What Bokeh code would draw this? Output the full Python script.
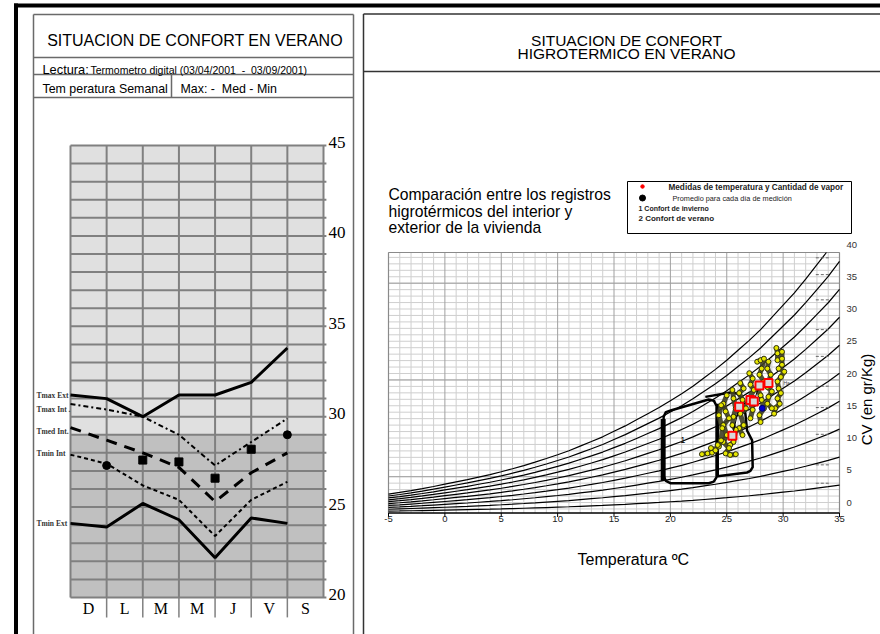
import math
from bokeh.plotting import figure
from bokeh.models import Range1d
from bokeh.embed import file_html
from bokeh.resources import INLINE
from bokeh.core.properties import value

# ================= DATA =================
# --- left chart: weekly temperatures (deg C) ---
days = ["D", "L", "M", "M", "J", "V", "S"]
temp_ticks = [20, 25, 30, 35, 40, 45]
series_names = ["Tmax Ext", "Tmax Int .", "Tmed Int.", "Tmin Int", "Tmin Ext"]
tmax_ext = [31.2, 31.0, 30.0, 31.2, 31.2, 31.9, 33.8]
tmax_int = [30.7, 30.4, 30.0, 29.0, 27.3, 28.6, 29.9]
tmed_int = [29.4, 28.7, 28.0, 27.2, 25.3, 26.9, 28.0]
tmin_int = [27.9, 27.4, 26.2, 25.4, 23.4, 25.4, 26.4]
tmin_ext = [24.1, 23.9, 25.2, 24.3, 22.2, 24.4, 24.1]
tmed_mark_day = [1, 2, 3, 4, 5, 6]
tmed_mark = [27.3, 27.6, 27.5, 26.6, 28.2, 29.0]
tmed_mark_shape = ["circle", "square", "square", "square", "square", "circle"]
shade_split = 29

# --- right chart: psychrometric chart ---
x_ticks = [-5, 0, 5, 10, 15, 20, 25, 30, 35]
y_ticks = [0, 5, 10, 15, 20, 25, 30, 35, 40]
sat_T = list(range(-5, 36))
sat_w = [2.47, 2.69, 2.93, 3.19, 3.47, 3.77, 4.07, 4.37, 4.70, 5.03, 5.40,
         5.79, 6.21, 6.65, 7.13, 7.63, 8.15, 8.75, 9.35, 9.97, 10.69, 11.4,
         12.2, 13.0, 13.8, 14.7, 15.6, 16.6, 17.7, 18.8, 20.0, 21.3, 22.6,
         24.0, 25.6, 27.2, 28.8, 30.6, 32.5, 34.4, 36.6]
rh_levels = [10, 20, 30, 40, 50, 60, 70, 80, 90, 100]
rh_marks_cv = [33.4, 31.2, 27.9, 24.0, 20.5, 16.6, 13.8, 10.3, 6.3, 3.9]

pts_day = [1]*16 + [2]*8 + [3]*12 + [4]*7 + [5]*9 + [6]*8 + [7]*11 + [8]*5 + [9]*6
pts_T = [29.4, 29.5, 29.5, 29.9, 29.9, 29.9, 29.6, 30.1, 29.8, 29.5, 29.6, 29.8, 29.5, 29.7, 29.3, 29.2,
         28.7, 28.6, 28.9, 28.6, 29.0, 28.7, 28.6, 29.0,
         27.7, 28.0, 28.3, 28.1, 27.9, 28.3, 27.7, 28.0, 28.1, 28.3, 27.9, 28.0,
         27.0, 27.3, 27.1, 27.4, 27.0, 27.3, 27.1,
         26.2, 26.5, 26.1, 26.4, 26.7, 26.2, 26.5, 26.1, 26.4,
         25.5, 25.6, 25.8, 25.6, 25.5, 25.8, 25.6, 25.3,
         25.0, 24.7, 24.9, 25.2, 24.7, 25.0, 24.7, 25.2, 24.9, 25.3, 25.8,
         24.5, 24.3, 24.6, 24.5, 24.3,
         22.8, 23.3, 23.7, 23.6, 24.0, 24.2]
pts_cv = [21.6, 20.9, 20.0, 21.1, 20.2, 19.4, 18.9, 18.5, 17.8, 17.2, 16.3, 15.7, 15.0, 14.3, 13.7, 13.0,
          19.8, 18.9, 18.1, 16.5, 15.9, 15.2, 14.3, 13.7,
          19.8, 20.0, 20.2, 18.9, 18.1, 17.2, 16.3, 15.4, 14.8, 13.7, 12.8, 11.9,
          18.3, 17.6, 16.8, 16.1, 15.0, 13.5, 12.4,
          17.0, 16.3, 15.7, 14.8, 13.7, 13.0, 11.5, 11.1, 10.2,
          16.1, 15.0, 13.7, 12.6, 11.5, 10.9, 9.3, 8.9,
          15.4, 14.3, 13.3, 12.4, 11.5, 10.2, 9.3, 8.5, 7.8, 7.6, 7.7,
          14.1, 12.8, 11.1, 9.5, 8.7,
          7.7, 7.8, 7.9, 8.5, 8.2, 8.9]
avg_T = [25.5, 26.1, 27.1, 27.4, 27.9, 28.7]
avg_cv = [10.1, 13.9, 14.8, 14.6, 16.7, 17.0]
mean_T = [28.15]
mean_cv = [13.7]

zone1_T = [19.4, 19.4, 19.6, 20.1, 23.4, 23.85, 24.1, 24.1, 23.85, 23.4, 20.0, 19.6, 19.4]
zone1_cv = [4.8, 12.6, 13.2, 13.45, 14.85, 14.7, 14.0, 4.7, 4.1, 3.9, 3.9, 4.2, 4.8]
zone1_bar_T = [19.36, 19.36]
zone1_bar_cv = [4.2, 12.3]
zone2_T = [23.1, 25.45, 25.95, 26.25, 26.65, 26.8, 27.25, 27.3, 27.1, 26.8, 24.2, 24.2]
zone2_cv = [15.2, 15.8, 15.6, 15.1, 13.0, 10.8, 9.5, 6.0, 5.5, 5.3, 4.8, 14.3]

legend_items = ["Medidas de temperatura y Cantidad de vapor",
                "Promedio para cada día de medición",
                "1 Confort de invierno",
                "2 Confort de verano"]

# ================= FIGURE =================
SANS = "Liberation Sans"
SERIF = "Liberation Serif"
NB = "\u00a0"
X0, X1, Y0, Y1 = 0, 880, 0, 634   # page-pixel frame

p = figure(width=880, height=634, x_range=Range1d(X0, X1), y_range=Range1d(Y1, Y0),
           x_axis_type=None, y_axis_type=None, output_backend="svg",
           toolbar_location=None, min_border=0, outline_line_color=None,
           background_fill_color="white", border_fill_color="white")


def lin_range(va, pa, vb, pb, lo, hi):
    k = (vb - va) / (pb - pa)
    return Range1d(start=va + (lo - pa) * k, end=va + (hi - pa) * k)


CV_PX0, CV_K = 512.5, 7.64
p.extra_x_ranges = {"lday": lin_range(0, 70, 7, 323, X0, X1),
                    "rT": lin_range(-5, 388, 35, 839, X0, X1)}
p.extra_y_ranges = {"ltemp": lin_range(20, 597, 45, 145, Y1, Y0),
                    "rcv": lin_range(0, CV_PX0, 10, CV_PX0 - 10 * CV_K, Y1, Y0),
                    "rlab": lin_range(0, 502, 40, 244, Y1, Y0)}


def txt(x, y, s, size, font=SANS, align="left", baseline="alphabetic", color="black",
        style="normal", angle=0.0, xr="default", yr="default", xoff=0, yoff=0):
    p.text(x=[x], y=[y], text=[s], text_font=value(font), text_font_size=value(f"{size}px"),
           text_align=align, text_baseline=baseline, text_color=color,
           text_font_style=style, angle=angle, x_range_name=xr, y_range_name=yr,
           x_offset=xoff, y_offset=yoff)


def segs(x0, y0, x1, y1, color="black", width=1.0, xr="default", yr="default", dash="solid"):
    p.segment(x0=x0, y0=y0, x1=x1, y1=y1, line_color=color, line_width=width,
              x_range_name=xr, y_range_name=yr, line_dash=dash)


# ---------- page frame ----------
segs([15.5], [3], [15.5], [634], "black", 4)
segs([13.5], [5], [880], [5], "black", 4)
# left panel box
segs([33, 353, 33, 33, 33, 33], [14, 14, 14, 57, 74, 97],
     [33, 353, 353, 353, 353, 353], [634, 634, 14, 57, 74, 97], "#6a6a6a", 1.5)
segs([171], [74], [171], [97], "#6a6a6a", 1.5)
# right panel box
segs([363, 363, 363], [13.5, 13.5, 71], [363, 880, 880], [634, 13.5, 71], "#333333", 1.5)

# ---------- left header texts ----------
txt(194.5, 39.5, "SITUACION DE CONFORT EN VERANO", 16)
p.renderers[-1].glyph.text_align = "center"
txt(42, 69, "Lectura:", 12.8)
txt(90, 69, "Termometro digital (03/04/2001" + NB * 2 + "-" + NB * 2 + "03/09/2001)", 10.5)
txt(42, 88, "Tem peratura Semanal", 12.4)
txt(180, 88, "Max: -" + NB * 2 + "Med - Min", 12.4)

# ---------- left chart ----------
p.quad(left=[0, 0], right=[7, 7], bottom=[shade_split, 20], top=[45, shade_split],
       fill_color=["#e0e0e0", "#c0c0c0"], line_color=None,
       x_range_name="lday", y_range_name="ltemp")
hl = list(range(20, 46))
segs([0] * len(hl), hl, [7.08] * len(hl), hl, "#808080", 2, "lday", "ltemp")
vl = list(range(0, 8))
segs(vl, [20] * len(vl), vl, [45] * len(vl), "#808080", 2, "lday", "ltemp")
sep = list(range(1, 7))
segs(sep, [20] * len(sep), sep, [18.9] * len(sep), "#808080", 1.5, "lday", "ltemp")

idx = list(range(7))
p.line(idx, tmin_ext, line_color="black", line_width=3, x_range_name="lday", y_range_name="ltemp")
p.line(idx, tmax_ext, line_color="black", line_width=3, x_range_name="lday", y_range_name="ltemp")
p.line(idx, tmax_int, line_color="black", line_width=2, line_dash="5 3 2 3",
       x_range_name="lday", y_range_name="ltemp")
p.line(idx, tmin_int, line_color="black", line_width=2, line_dash="4 3",
       x_range_name="lday", y_range_name="ltemp")
p.line(idx, tmed_int, line_color="black", line_width=3, line_dash="11 8",
       x_range_name="lday", y_range_name="ltemp")
p.scatter(tmed_mark_day, tmed_mark, marker=tmed_mark_shape, size=8, fill_color="black",
          line_color="black", x_range_name="lday", y_range_name="ltemp")

label_y = [395, 409, 431, 453, 523]
for name, ly in zip(series_names, label_y):
    txt(36, ly, name, 7.5, font=SERIF, baseline="middle", color="#333333", style="bold")

for t in temp_ticks:
    txt(328, t, str(t), 17, font=SERIF, baseline="middle", xr="default", yr="ltemp", yoff=-3)
for i, d in enumerate(days):
    txt(i + 0.5, 608, d, 16, font=SERIF, align="center", baseline="middle", xr="lday")

# ---------- right header texts ----------
txt(626, 40, "SITUACION DE CONFORT", 15.5, align="center")
txt(626, 52.7, "HIGROTERMICO EN VERANO", 15.5, align="center")
txt(388, 194, "Comparación entre los registros", 15.7)
txt(388, 210.5, "higrotérmicos del interior y", 15.7)
txt(388, 227, "exterior de la vivienda", 15.7)

# legend
p.quad(left=[627], right=[851], top=[181], bottom=[233], fill_color=None, line_color="black",
       line_width=1)
p.scatter([642], [186], size=3.5, fill_color="red", line_color="red")
p.scatter([642], [197.5], size=6, fill_color="black", line_color="black")
txt(668, 186.5, legend_items[0], 8.2, baseline="middle", style="bold", color="#222222")
txt(672, 197.5, legend_items[1], 7.3, baseline="middle", color="#222222")
txt(638, 207.5, legend_items[2], 7, baseline="middle", style="bold", color="#222222")
txt(638, 218, legend_items[3], 8, baseline="middle", style="bold", color="#222222")

# ---------- right chart: grid ----------
top_cv = (CV_PX0 - 252) / CV_K
gT = list(range(-5, 36))
light_T = [t for t in gT if t % 5]
dark_T = [t for t in gT if t % 5 == 0]
segs(light_T, [0] * len(light_T), light_T, [top_cv] * len(light_T), "#cfcfcf", 1, "rT", "rcv")
gl = list(range(-1, 39))
segs([-5] * len(gl), gl, [35] * len(gl), gl, "#cfcfcf", 1, "rT", "rlab")
segs(dark_T, [0] * len(dark_T), dark_T, [top_cv] * len(dark_T), "#a0a0a0", 1, "rT", "rcv")
dl = [4, 19, 34]
segs([-5] * len(dl), dl, [35] * len(dl), dl, "#a0a0a0", 1, "rT", "rlab")
# frame
segs([388, 388, 839], [252, 252, 252], [388, 839, 839], [512.5, 252, 512.5], "#8a8a8a", 1.2)
segs([388], [512.5], [839], [512.5], "black", 1.5)
segs(x_ticks, [512.5] * len(x_ticks), x_ticks, [516.5] * len(x_ticks), "black", 1, "rT", "default")

# relative-humidity curves (clipped to frame top)
cxs, cys = [], []
for rh in rh_levels:
    cx, cy = [], []
    for i, (t, ws) in enumerate(zip(sat_T, sat_w)):
        w = ws * rh / 100.0
        if w <= top_cv:
            cx.append(t)
            cy.append(w)
        else:
            w0 = sat_w[i - 1] * rh / 100.0
            t0 = sat_T[i - 1]
            f = (top_cv - w0) / (w - w0)
            cx.append(t0 + f * (t - t0))
            cy.append(top_cv)
            break
    cxs.append(cx)
    cys.append(cy)
p.multi_line(cxs, cys, line_color="black", line_width=1.2, x_range_name="rT", y_range_name="rcv")
segs([32.9] * len(rh_marks_cv), rh_marks_cv, [34.2] * len(rh_marks_cv), rh_marks_cv,
     "#666666", 1, "rT", "rcv", dash="3 2")

# comfort zones
p.line(zone1_T, zone1_cv, line_color="black", line_width=2.5, x_range_name="rT", y_range_name="rcv")
p.line(zone1_bar_T, zone1_bar_cv, line_color="black", line_width=5, x_range_name="rT", y_range_name="rcv")
p.line(zone2_T, zone2_cv, line_color="black", line_width=2.5, x_range_name="rT", y_range_name="rcv")
txt(21.1, 9.5, "1", 9, align="center", baseline="middle", xr="rT", yr="rcv")

# measurement points: daily streaks + points
groups = sorted(set(pts_day))
sx, sy = [], []
for g in groups:
    sx.append([t for t, d in zip(pts_T, pts_day) if d == g])
    sy.append([c for c, d in zip(pts_cv, pts_day) if d == g])
p.multi_line(sx, sy, line_color="#3e3e22", line_width=5, line_alpha=0.9,
             x_range_name="rT", y_range_name="rcv")
p.scatter(pts_T, pts_cv, marker="circle", size=5, fill_color="#e6e600", line_color="#2e2e10",
          line_width=1, x_range_name="rT", y_range_name="rcv")
p.line(avg_T, avg_cv, line_color="black", line_width=1, x_range_name="rT", y_range_name="rcv")
p.scatter(avg_T, avg_cv, marker="square", size=8, fill_color="#d8d8d8", line_color="red",
          line_width=2, x_range_name="rT", y_range_name="rcv")
p.scatter(mean_T, mean_cv, marker="circle", size=6, fill_color="#0000cc", line_color="#000066",
          x_range_name="rT", y_range_name="rcv")
txt(783, 382, "Ha", 5, baseline="middle", color="#444444")

# tick labels & axis titles
for t in x_ticks:
    txt(t, 518, str(t), 9.5, align="center", baseline="middle", color="#222222", xr="rT")
for v in y_ticks:
    txt(846, v, str(v), 9.5, baseline="middle", color="#333333", yr="rlab")
txt(577, 559, "Temperatura ºC", 16)
txt(866, 399, "CV (en gr/Kg)", 15, align="center", baseline="middle", angle=math.pi / 2)

open("out.html", "w").write(file_html(p, INLINE))
